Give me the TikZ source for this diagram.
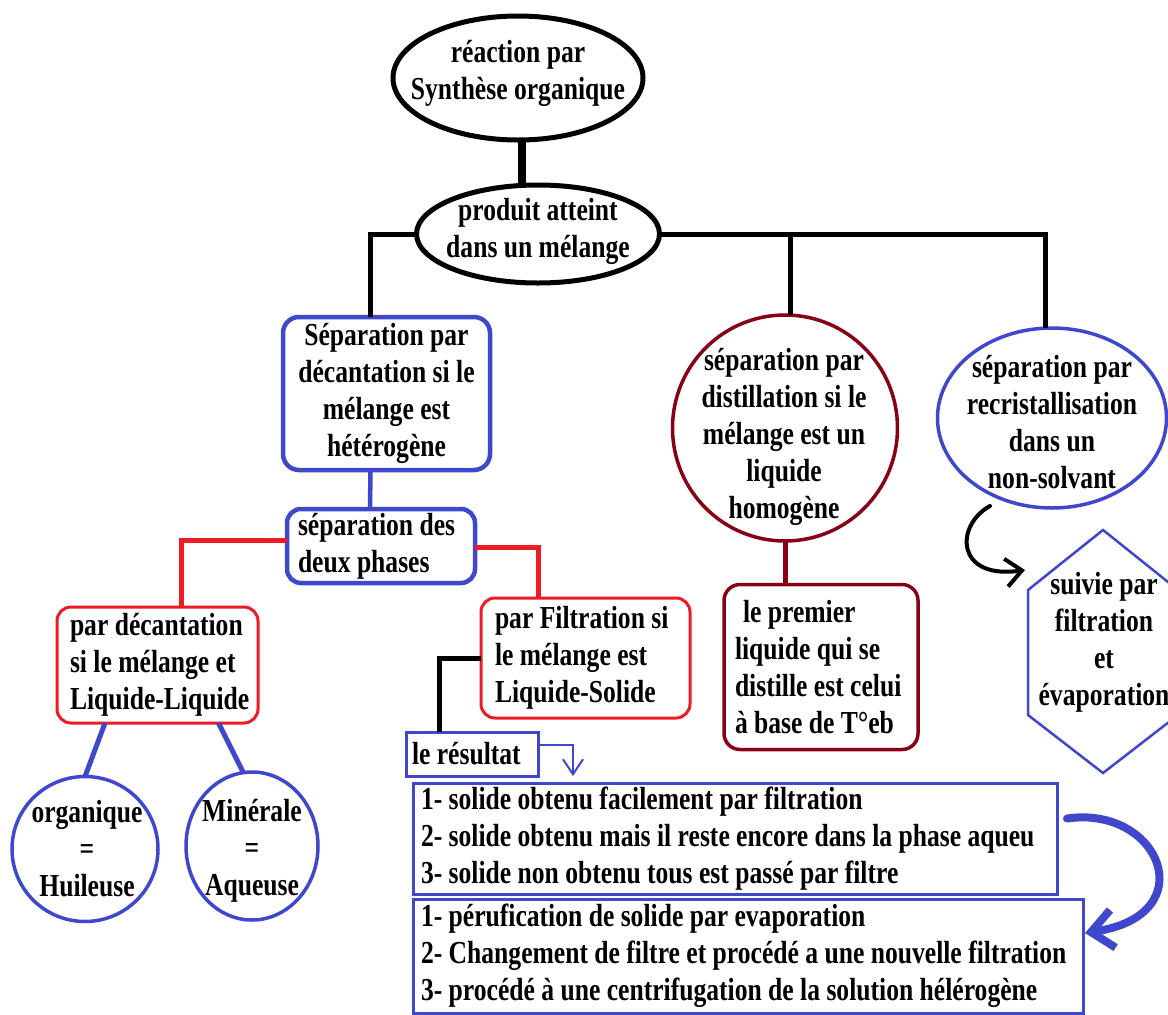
\documentclass[tikz,border=0pt]{standalone}
\usepackage{fontspec}
\setmainfont{Liberation Serif}[FakeStretch=0.8]
\usetikzlibrary{shapes.geometric,arrows.meta,calc}
\definecolor{pblue}{RGB}{63,72,204}
\definecolor{pred}{RGB}{237,28,36}
\definecolor{pdred}{RGB}{136,0,21}
\begin{document}
\begin{tikzpicture}[x=1pt,y=-1pt,
  font=\fontsize{32}{37}\selectfont\bfseries,
  shp/.style={ellipse,draw,inner sep=0pt,outer sep=0pt},
  txt/.style={align=center,inner sep=0pt},
  lbox/.style={rectangle,draw,align=flush left,inner ysep=0pt,outer sep=0pt},
  conn/.style={line width=5pt,black},
  redline/.style={line width=5pt,pred},
  blueline/.style={line width=5pt,pblue}]
\useasboundingbox (0,0) rectangle (1168,1015);
\fill[white] (0,0) rectangle (1168,1015);

% ellipses
\node[shp,line width=5pt,minimum width=250pt,minimum height=124pt] (top) at (518,78) {};
\node[txt] (topT) at (518,73) {réaction par\\Synthèse organique};
\node[shp,line width=5pt,minimum width=243pt,minimum height=98pt] (prod) at (538,234) {};
\node[txt] (prodT) at (538,231) {produit atteint\\dans un mélange};

% left branch
\node[lbox,draw=pblue,line width=4.5pt,rounded corners=16pt,align=flush center,
      minimum width=207pt,minimum height=153pt,text width=199pt,inner xsep=4pt] (sep) at (386.5,393.5)
  {\mbox{Séparation par}\\\mbox{décantation si le}\\\mbox{mélange est}\\\mbox{hétérogène}};
\node[lbox,draw=pblue,line width=4.5pt,rounded corners=14pt,
      minimum width=188pt,minimum height=74pt,text width=166pt,inner xsep=11pt] (phases) at (381,546)
  {\mbox{séparation des}\\\mbox{deux phases}};
\node[lbox,draw=pred,line width=3pt,rounded corners=14pt,
      minimum width=201pt,minimum height=116pt,text width=175pt,inner xsep=13pt] (dec) at (157.5,665)
  {\mbox{par décantation}\\\mbox{si le mélange et}\\\mbox{Liquide-Liquide}};
\node[lbox,draw=pred,line width=3pt,rounded corners=14pt,
      minimum width=209pt,minimum height=120pt,text width=181pt,inner xsep=14pt] (filt) at (585.5,658)
  {\mbox{par Filtration si}\\\mbox{le mélange est}\\\mbox{Liquide-Solide}};
\node[shp,draw=pblue,line width=3.5pt,minimum width=146pt,minimum height=145pt] (org) at (85,849) {};
\node[txt] (orgT) at (87,849) {organique\\=\\Huileuse};
\node[shp,draw=pblue,line width=3.5pt,minimum width=132pt,minimum height=148pt] (min) at (252,846) {};
\node[txt] (minT) at (252,851) {Minérale\\=\\Aqueuse};

\node[lbox,draw=pblue,line width=3pt,
      minimum width=132pt,minimum height=44pt,text width=120pt,inner xsep=6pt] (res) at (472,754)
  {\mbox{le résultat}};
\node[lbox,draw=pblue,line width=3pt,
      minimum width=644pt,minimum height=111pt,text width=628pt,inner xsep=8pt] (box1) at (735,838.5)
  {\mbox{1- solide obtenu facilement par filtration}\\\mbox{2- solide obtenu mais il reste encore dans la phase aqueu}\\\mbox{3- solide non obtenu tous est passé par filtre}};
\node[lbox,draw=pblue,line width=3pt,
      minimum width=670pt,minimum height=114pt,text width=654pt,inner xsep=8pt] (box2) at (748,956)
  {\mbox{1- pérufication de solide par evaporation}\\\mbox{2- Changement de filtre et procédé a une nouvelle filtration}\\\mbox{3- procédé à une centrifugation de la solution hélérogène}};

% middle / right
\node[shp,draw=pdred,line width=3.5pt,minimum width=225pt,minimum height=226pt] (dist) at (785,428) {};
\node[txt] (distT) at (784,437) {séparation par\\distillation si le\\mélange est un\\liquide\\homogène};
\node[lbox,draw=pdred,line width=3.5pt,rounded corners=16pt,
      minimum width=194pt,minimum height=165pt,text width=180pt,inner xsep=7pt] (prem) at (821,667)
  {\mbox{\hspace*{4pt}\hspace*{0.25em}le premier}\\\mbox{\hspace*{4pt}liquide qui se}\\\mbox{\hspace*{4pt}distille est celui}\\\mbox{\hspace*{4pt}à base de T°eb}};
\node[shp,draw=pblue,line width=3.5pt,minimum width=229pt,minimum height=180pt] (rec) at (1052,418) {};
\node[txt] (recT) at (1052,422) {séparation par\\recristallisation\\dans un\\non-solvant};

\coordinate (hexc) at (1103,651.5);
\draw[pblue,line width=2.5pt,line join=miter]
  ($(hexc)+(0,-121.5)$) -- ($(hexc)+(-75,-61.5)$) -- ($(hexc)+(-75,63.5)$) --
  ($(hexc)+(0,121.5)$) -- ($(hexc)+(75,63.5)$) -- ($(hexc)+(75,-61.5)$) -- cycle;
\node[txt] (hexT) at (1104,642) {suivie par\\filtration\\et\\évaporation};

% connectors
\draw[line width=8pt] ($(top.south)+(4,0)$) -- ($(prod.north)+(-16,0)$);
\coordinate (sepin) at ($(sep.north)+(-16,0)$);
\draw[conn] (prod.west) -| (sepin);
\coordinate (recin) at ($(rec.north)+(-7,0)$);
\draw[conn] (prod.east) -| (recin);
\coordinate (dtop) at ($(dist.north)+(5,0)$);
\draw[conn] (dtop |- prod.east) -- (dtop);

\draw[pblue,line width=4.5pt] ($(sep.south)+(-16,0)$) -- ($(phases.north)+(-11,0)$);
\coordinate (decin) at ($(dec.north)+(24,0)$);
\draw[redline] ($(phases.west)+(0,-6)$) -| (decin);
\coordinate (filin) at ($(filt.north)+(-47,0)$);
\draw[redline] ($(phases.east)+(0,1)$) -| (filin);

\draw[blueline] ($(dec.south)+(-52.5,0)$) -- (org.north);
\draw[blueline] ($(dec.south)+(61,0)$) -- ($(min.north)+(-9,0)$);

\coordinate (resin) at ($(res.north)+(-33,0)$);
\draw[conn] (filt.west) -| (resin);
\coordinate (arrEnd) at (573,776);
\draw[pblue,line width=2pt,-{Straight Barb[length=15pt,width=20pt]}] ($(res.east)+(0,-9)$) -| (arrEnd);

\draw[pdred,line width=5pt] (dist.south) -- (dist.south |- prem.north);

\coordinate (bkS) at (990,506);
\coordinate (bkE) at (1025,570);
\draw[line width=4pt,line cap=round,-{Straight Barb[length=16pt,width=28pt]}]
  (bkS) .. controls (955,525) and (955,580) .. (bkE);

\coordinate (bbS) at ($(box1.east)+(10,-20)$);
\coordinate (bbE) at ($(box2.east)+(2,-23)$);
\draw[pblue,line width=8pt,line cap=round,-{Straight Barb[length=22pt,width=38pt]}]
  (bbS) .. controls (1160,805) and (1205,915) .. (bbE);
\end{tikzpicture}
\end{document}
